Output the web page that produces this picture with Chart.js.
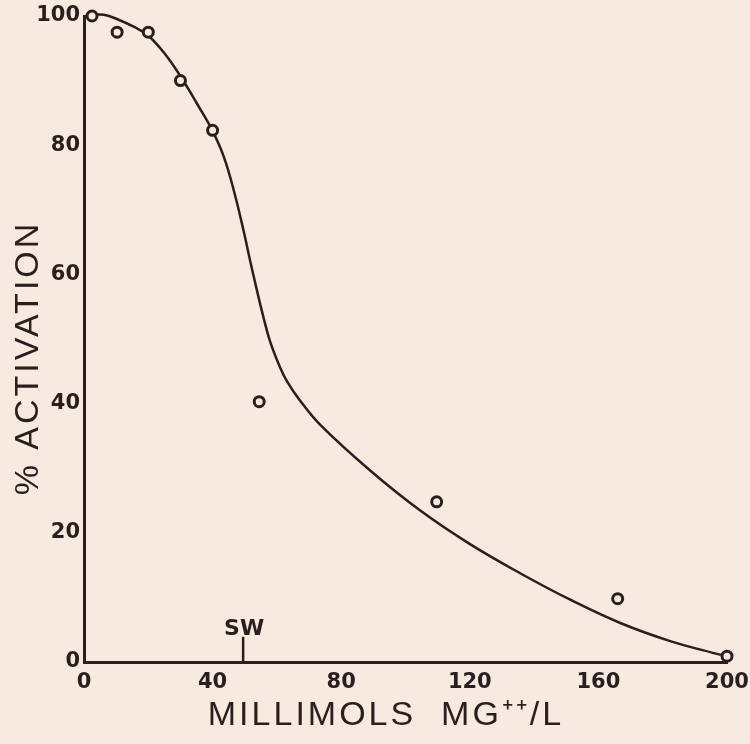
<!DOCTYPE html>
<html>
<head>
<meta charset="utf-8">
<script src="https://cdn.jsdelivr.net/npm/chart.js@4.4.1/dist/chart.umd.min.js"></script>
<style>
  html, body { margin: 0; padding: 0; background: #f8eadf; }
  #wrap { width: 750px; height: 744px; }
</style>
</head>
<body>
<div id="wrap"><canvas id="activationChart" width="750" height="744"></canvas></div>
<script>
// measured activation (open circles)
const pointsX = [2.5, 10.3, 20, 30, 40, 54.5, 109.7, 166, 200];
const pointsY = [100, 97.5, 97.5, 90, 82.3, 40.3, 24.8, 9.8, 0.9];

// hand-fitted curve through the data
const curveX = [2.6, 6.2, 10.4, 15.6, 19.7, 24.9, 30.1, 35.3, 39.9, 43.5, 46.7, 49.8, 51.5, 53.9, 55.8, 57.9, 61, 63.2, 67, 73.5, 89.1, 104.7, 120.2, 135.8, 151.4, 167, 182.6, 198.1];
const curveY = [100.2, 100.2, 99.5, 98.3, 97.1, 94.3, 90.6, 86.3, 82.3, 78.2, 72.8, 66.4, 62.5, 57.3, 53.4, 49.6, 45.6, 43.4, 40.6, 36.7, 29.6, 23.4, 18.2, 13.7, 9.6, 6.0, 3.2, 1.1];

// sea water marker on the x axis
const swX = [49.5, 49.5];
const swY = [0, 3.9];
const swLabel = 'SW';

const xTicks = [0, 40, 80, 120, 160, 200];
const yTicks = [0, 20, 40, 60, 80, 100];

const xTitle = 'MILLIMOLS  MG\u207A\u207A/L';
const yTitle = '% ACTIVATION';

const INK = '#2a1f1f';
const PAPER = '#f8eadf';

const toXY = (xs, ys) => xs.map((x, i) => ({ x: x, y: ys[i] }));

const captions = {
  id: 'captions',
  afterDraw(chart) {
    const { ctx, scales } = chart;
    ctx.save();
    ctx.fillStyle = INK;

    // SW label above its tick
    ctx.font = 'bold 22px "DejaVu Sans"';
    ctx.textAlign = 'center';
    ctx.textBaseline = 'alphabetic';
    ctx.fillText(swLabel, scales.x.getPixelForValue(swX[1]) + 1, scales.y.getPixelForValue(swY[1]) - 2);

    // axis titles
    ctx.font = '34px "Liberation Sans"';
    ctx.letterSpacing = '3px';
    ctx.textBaseline = 'middle';
    ctx.fillText(xTitle, 386, 716);
    ctx.translate(29, 358);
    ctx.rotate(-Math.PI / 2);
    ctx.fillText(yTitle, 0, 0);
    ctx.restore();
  }
};

new Chart(document.getElementById('activationChart'), {
  type: 'scatter',
  data: {
    datasets: [
      {
        label: 'measured',
        data: toXY(pointsX, pointsY),
        pointStyle: 'circle',
        pointRadius: 5,
        pointBorderWidth: 3,
        pointBorderColor: INK,
        pointBackgroundColor: PAPER,
        showLine: false,
        order: 0,
        clip: false
      },
      {
        label: 'curve',
        data: toXY(curveX, curveY),
        showLine: true,
        borderColor: INK,
        borderWidth: 2.5,
        pointRadius: 0,
        tension: 0.4,
        order: 1,
        clip: false
      },
      {
        label: 'sw',
        data: toXY(swX, swY),
        showLine: true,
        borderColor: INK,
        borderWidth: 2.5,
        pointRadius: 0,
        order: 1,
        clip: false
      }
    ]
  },
  options: {
    responsive: false,
    animation: false,
    devicePixelRatio: 1,
    layout: { padding: { top: 16, right: 23, left: 0, bottom: 0 } },
    plugins: { legend: { display: false }, tooltip: { enabled: false } },
    scales: {
      x: {
        type: 'linear',
        min: 0,
        max: 200,
        afterFit: s => { s.height = 82; s.paddingLeft = 0; s.paddingRight = 0; },
        afterBuildTicks: s => { s.ticks = xTicks.map(v => ({ value: v })); },
        grid: { display: true, drawOnChartArea: false, drawTicks: false },
        border: { display: true, color: INK, width: 3 },
        ticks: {
          color: INK,
          padding: 8,
          maxRotation: 0,
          font: { family: 'DejaVu Sans', size: 21, weight: 'bold' }
        }
      },
      y: {
        type: 'linear',
        min: 0,
        max: 100,
        afterFit: s => { s.width = 84; s.paddingTop = 0; s.paddingBottom = 0; },
        afterBuildTicks: s => { s.ticks = yTicks.map(v => ({ value: v })); },
        grid: { display: true, drawOnChartArea: false, drawTicks: false },
        border: { display: true, color: INK, width: 3 },
        ticks: {
          color: INK,
          padding: 4,
          font: { family: 'DejaVu Sans', size: 21, weight: 'bold' }
        }
      }
    }
  },
  plugins: [captions]
});
</script>
</body>
</html>
